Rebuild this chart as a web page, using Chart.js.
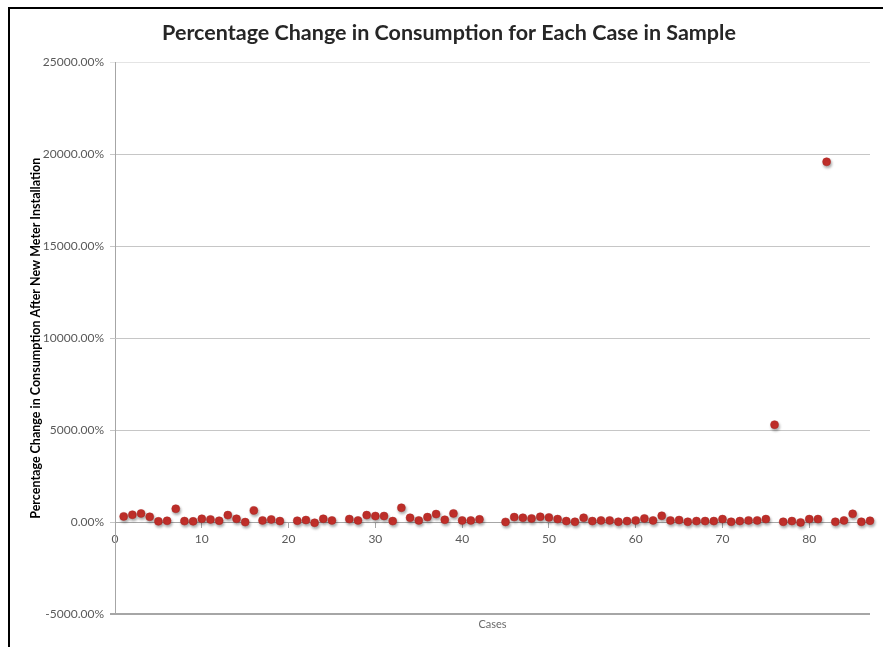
<!DOCTYPE html>
<html>
<head>
<meta charset="utf-8">
<title>Percentage Change in Consumption</title>
<script src="https://cdn.jsdelivr.net/npm/chart.js@4/dist/chart.umd.min.js"></script>
<style>
  html, body { margin: 0; padding: 0; background: #ffffff; }
  #wrap { position: relative; width: 883px; height: 647px; }
</style>
</head>
<body>
<div id="wrap"><canvas id="chart" width="883" height="647"></canvas></div>
<script>
// Case numbers in the sample
const caseNumbers = [
  1, 2, 3, 4, 5, 6, 7, 8, 9, 10,
  11, 12, 13, 14, 15, 16, 17, 18, 19, 20,
  21, 22, 23, 24, 25, 26, 27, 28, 29, 30,
  31, 32, 33, 34, 35, 36, 37, 38, 39, 40,
  41, 42, 43, 44, 45, 46, 47, 48, 49, 50,
  51, 52, 53, 54, 55, 56, 57, 58, 59, 60,
  61, 62, 63, 64, 65, 66, 67, 68, 69, 70,
  71, 72, 73, 74, 75, 76, 77, 78, 79, 80,
  81, 82, 83, 84, 85, 86, 87
];

// Percentage change in consumption after new meter installation (null = no reading)
const pctChange = [
  310, 400, 470, 290, 40, 70, 727, 55, 40, 180,
  145, 73, 380, 180, 0, 636, 90, 145, 55, null,
  73, 110, -36, 180, 90, null, 165, 90, 380, 330,
  330, 55, 780, 236, 90, 270, 436, 127, 472, 90,
  90, 150, null, null, 10, 270, 236, 200, 290, 254,
  163, 55, 18, 236, 55, 90, 90, 18, 55, 90,
  200, 90, 345, 90, 110, 18, 55, 55, 55, 163,
  18, 55, 90, 90, 163, 5300, 18, 55, -18, 163,
  163, 19600, 18, 90, 450, 18, 73
];

// Axis settings
const yMin = -5000, yMax = 25000, yStep = 5000;
const xMin = 0, xMax = 87, xStep = 10;

const points = [];
caseNumbers.forEach((c, i) => {
  if (pctChange[i] !== null) points.push({ x: c, y: pctChange[i] });
});

// Outer frame lines and soft marker shadows
const framePlugin = {
  id: 'frame',
  beforeDatasetsDraw(chart) {
    const ctx = chart.ctx;
    ctx.save();
    ctx.shadowColor = 'rgba(0,0,0,0.35)';
    ctx.shadowBlur = 3;
    ctx.shadowOffsetX = 1;
    ctx.shadowOffsetY = 2;
  },
  afterDatasetsDraw(chart) {
    chart.ctx.restore();
  },
  afterDraw(chart) {
    const ctx = chart.ctx;
    ctx.save();
    ctx.fillStyle = '#000000';
    ctx.fillRect(8, 7, chart.width - 8, 2);
    ctx.fillRect(8, 7, 2, chart.height - 7);
    ctx.restore();
  }
};

new Chart(document.getElementById('chart'), {
  type: 'scatter',
  data: {
    datasets: [{
      label: 'Percentage Change',
      data: points,
      clip: false,
      backgroundColor: '#c4302b',
      borderColor: '#a82420',
      borderWidth: 0.5,
      pointRadius: 4,
      pointHoverRadius: 4
    }]
  },
  options: {
    responsive: false,
    animation: false,
    events: [],
    layout: { padding: { left: 28, right: 13, top: 0, bottom: 0 } },
    plugins: {
      legend: { display: false },
      tooltip: { enabled: false },
      title: {
        display: true,
        text: 'Percentage Change in Consumption for Each Case in Sample',
        color: '#262626',
        font: { family: 'Lato', size: 21.5, weight: 'bold' },
        padding: { top: 20, bottom: 16.7 }
      },
      subtitle: {
        display: true,
        position: 'bottom',
        fullSize: false,
        text: 'Cases',
        color: '#6a6a6a',
        font: { family: 'Lato', size: 11 },
        padding: { top: 4, bottom: 15.8 }
      }
    },
    scales: {
      x: {
        type: 'linear',
        position: { y: 0 },
        min: xMin,
        max: xMax,
        afterFit(scale) { scale.height = 0; },
        ticks: {
          stepSize: xStep,
          includeBounds: false,
          color: '#595959',
          font: { family: 'Lato', size: 12 },
          padding: 5,
          maxRotation: 0
        },
        grid: {
          drawOnChartArea: false,
          drawTicks: true,
          tickLength: 5,
          color: '#a6a6a6'
        },
        border: { display: true, color: '#a6a6a6', width: 1 }
      },
      y: {
        type: 'linear',
        position: 'left',
        min: yMin,
        max: yMax,
        afterFit(scale) { scale.width = 87; },
        ticks: {
          stepSize: yStep,
          color: '#595959',
          font: { family: 'Lato', size: 12 },
          padding: 6,
          callback: (v) => v.toFixed(2) + '%'
        },
        grid: {
          drawTicks: true,
          tickLength: 5,
          color: (ctx) => {
            const v = ctx.tick ? ctx.tick.value : null;
            if (v === yMin) return '#a6a6a6';
            if (v === yMax) return '#e4e4e4';
            return '#c6c6c6';
          },
          lineWidth: (ctx) => (ctx.tick && ctx.tick.value === yMin ? 2 : 1)
        },
        border: { display: true, color: '#a6a6a6', width: 1 },
        title: {
          display: true,
          text: 'Percentage Change in Consumption After New Meter Installation',
          color: '#000000',
          font: { family: 'Lato', size: 12.5, weight: 'bold' },
          padding: { top: 0, bottom: 0 }
        }
      }
    }
  },
  plugins: [framePlugin]
});
</script>
</body>
</html>
